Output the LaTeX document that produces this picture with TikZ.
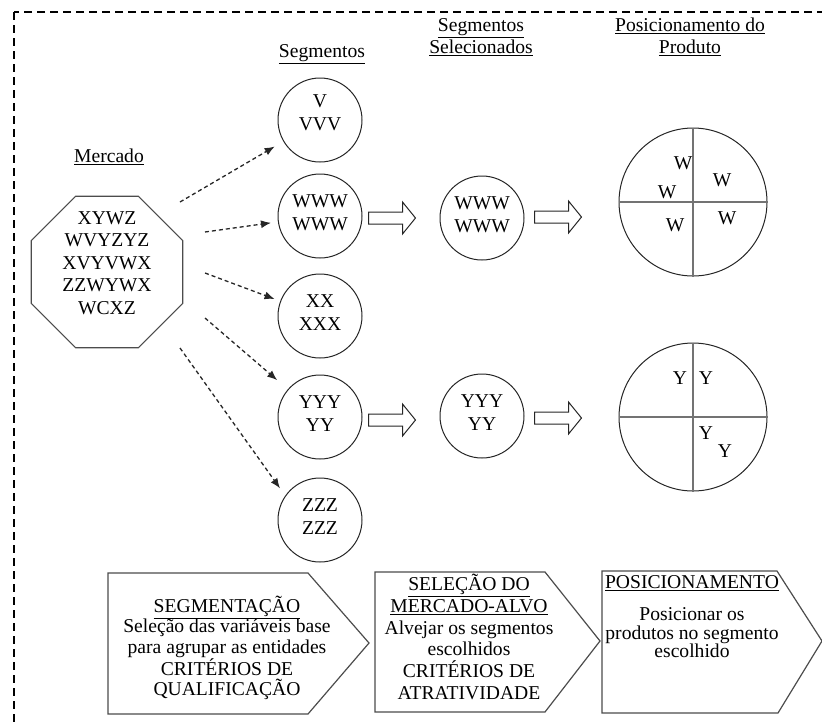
\documentclass[tikz,border=0pt]{standalone}
\usepackage{fontspec}
\setmainfont{Liberation Serif}
\newfontfamily\timesface{Liberation Serif}
\usetikzlibrary{arrows.meta,shapes.geometric,calc}

\begin{document}
\begin{tikzpicture}[x=1pt,y=-1pt,
  every node/.style={font=\timesface\fontsize{19.6}{22.5}\selectfont, inner sep=0pt},
  frame/.style={draw=black, line width=1.6pt, dash pattern=on 8pt off 5pt},
  header/.style={align=center, font=\timesface\fontsize{19.6}{22}\selectfont},
  seg/.style={circle, draw=black!85, line width=1pt, minimum size=84pt, align=center, text depth=7pt},
  quad/.style={circle, draw=black!85, line width=1pt, minimum size=148pt},
  axis/.style={draw=black!55, line width=1.3pt},
  feed/.style={draw=black!85, line width=1.3pt, dash pattern=on 4pt off 3pt, -{Latex[length=10pt,width=8pt]}},
  stage/.style={draw=black!70, line width=1.2pt, line join=miter},
  stagetext/.style={align=center, font=\timesface\fontsize{19.6}{20.3}\selectfont},
  hollowarrow/.pic={\draw[draw=black!85, line width=1pt, fill=white]
    (0,-6) -- (34,-6) -- (34,-16) -- (47,0) -- (34,16) -- (34,6) -- (0,6) -- cycle;}
]
\useasboundingbox (0,0) rectangle (822,724);

% outer dashed frame
\draw[frame] (14,12) rectangle (840,742);

% column headings
\node[header] (hseg) at (322,54) {\underline{Segmentos}};
\node[header] (hsel) at (481,37) {\underline{Segmentos}\\\underline{Selecionados}};
\node[header] (hpos) at (690,37) {\underline{Posicionamento do}\\\underline{Produto}};
\node[header] (hmkt) at (109,157) {\underline{Mercado}};

% market
\node[draw=black!70, line width=1.2pt, regular polygon, regular polygon sides=8,
      minimum size=164pt] (mkt) at (107,272) {};
\node[align=center] (mkttext) at (107,263) {XYWZ\\WVYZYZ\\XVYVWX\\ZZWYWX\\WCXZ};

% segments
\node[seg, text depth=15pt] (s1) at (320,120) {V\\VVV};
\node[seg] (s2) at (320,216) {WWW\\WWW};
\node[seg] (s3) at (320,316) {XX\\XXX};
\node[seg] (s4) at (320,417) {YYY\\YY};
\node[seg] (s5) at (320,520) {ZZZ\\ZZZ};

% selected segments
\node[seg] (t1) at (482,218) {WWW\\WWW};
\node[seg] (t2) at (482,416) {YYY\\YY};

% positioning maps
\node[quad] (p1) at (693,202) {};
\draw[axis] (p1.west) -- (p1.east);
\draw[axis] (p1.north) -- (p1.south);
\node[quad] (p2) at (693,417) {};
\draw[axis] (p2.west) -- (p2.east);
\draw[axis] (p2.north) -- (p2.south);

\node (w1) at (683,163) {W};
\node (w2) at (667,192) {W};
\node (w3) at (722,180) {W};
\node (w4) at (675,225) {W};
\node (w5) at (727,218) {W};

\node (y1) at (680,378) {Y};
\node (y2) at (706,378) {Y};
\node (y3) at (706,433) {Y};
\node (y4) at (725,451) {Y};

% market split into segments
\coordinate (m1) at (180,202);
\coordinate (m2) at (205,232);
\coordinate (m3) at (205,273);
\coordinate (m4) at (205,318);
\coordinate (m5) at (180,348);
\draw[feed, shorten >=10pt] (m1) -- (s1);
\draw[feed, shorten >=7pt] (m2) -- (s2);
\draw[feed, shorten >=6pt] (m3) -- (s3);
\draw[feed, shorten >=14pt] (m4) -- (s4);
\draw[feed, shorten >=9pt] (m5) -- (s5.145);

% selection and positioning steps
\pic at ($(s2.east)+(6,2)$) {hollowarrow};
\pic at ($(t1.east)+(10,-1)$) {hollowarrow};
\pic at ($(s4.east)+(6,3)$) {hollowarrow};
\pic at ($(t2.east)+(10,2)$) {hollowarrow};

% process stages
\draw[stage] (108,573) -- (308,573) -- (369,643) -- (308,714) -- (108,714) -- cycle;
\draw[stage] (375,572) -- (545,572) -- (600,641) -- (545,712) -- (375,712) -- cycle;
\draw[stage] (602,571) -- (777,571) -- (822,641) -- (778,713) -- (602,713) -- cycle;

\node[stagetext] (segtext) at (227,648)
  {\underline{SEGMENTAÇÃO}\\Seleção das variáveis base\\para agrupar as entidades\\CRITÉRIOS DE\\QUALIFICAÇÃO};
\node[stagetext, font=\timesface\fontsize{19.6}{21.8}\selectfont] (tgttext) at (469,637)
  {\underline{SELEÇÃO DO}\\\underline{MERCADO-ALVO}\\Alvejar os segmentos\\escolhidos\\CRITÉRIOS DE\\ATRATIVIDADE};
\node[stagetext] (postitle) at (692,583) {\underline{POSICIONAMENTO}};
\node[stagetext, font=\timesface\fontsize{19.6}{18.5}\selectfont] (postext) at (692,633)
  {Posicionar os\\produtos no segmento\\escolhido};
\end{tikzpicture}
\end{document}
